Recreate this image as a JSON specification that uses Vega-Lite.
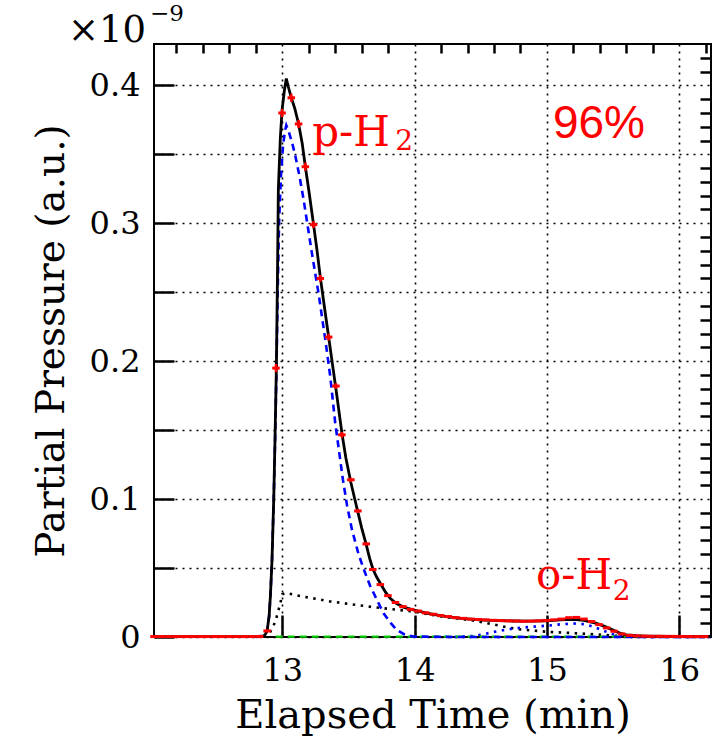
{
  "$schema": "https://vega.github.io/schema/vega-lite/v6.json",
  "autosize": {"type": "none"},
  "padding": {"left": 154, "top": 44, "right": 1, "bottom": 108},
  "width": 557,
  "height": 593,
  "background": "white",
  "config": {
    "view": {"stroke": "black", "strokeWidth": 2},
    "axis": {"domain": false, "labelColor": "black", "titleColor": "black", "tickColor": "black", "labelFlush": false, "labelOverlap": false, "labelBound": false}
  },
  "resolve": {"axis": {"x": "independent", "y": "independent"}},
  "layer": [
    {
      "data": {"values": [
        {"t": 12.86, "p": 0}, {"t": 12.9, "p": 0.002}, {"t": 12.947, "p": 0.011}, {"t": 12.985, "p": 0.0245},
        {"t": 13.0, "p": 0.031}, {"t": 13.03, "p": 0.032}, {"t": 13.11, "p": 0.0302}, {"t": 13.36, "p": 0.0258},
        {"t": 13.7, "p": 0.0215}, {"t": 14.0, "p": 0.0184}, {"t": 14.19, "p": 0.015}, {"t": 14.44, "p": 0.012},
        {"t": 14.6, "p": 0.009}, {"t": 14.7, "p": 0.007}, {"t": 14.8, "p": 0.0055}, {"t": 15.0, "p": 0.0038},
        {"t": 15.2, "p": 0.0028}, {"t": 15.35, "p": 0.002}, {"t": 15.5, "p": 0.001}, {"t": 15.65, "p": 0.0003}, {"t": 16.24, "p": 0}
      ]},
      "mark": {"type": "line", "color": "black", "strokeWidth": 2.6, "strokeDash": [2.5, 5.5]},
      "encoding": {
        "x": {"field": "t", "type": "quantitative", "scale": {"domain": [12.03, 16.24], "nice": false, "zero": false},
          "axis": {"values": [13, 14, 15, 16], "format": "d", "grid": true, "gridColor": "black", "gridDash": [2, 5], "gridWidth": 1.6, "gridOpacity": 1,
            "tickSize": -22, "tickWidth": 2.5, "labelFont": "DejaVu Serif", "labelFontSize": 32, "labelPadding": 40,
            "title": "Elapsed Time (min)", "titleFont": "DejaVu Serif", "titleFontSize": 40, "titleFontWeight": "normal", "titlePadding": 9}},
        "y": {"field": "p", "type": "quantitative", "scale": {"domain": [0, 0.43], "nice": false, "zero": false},
          "axis": {"values": [0, 0.05, 0.1, 0.15, 0.2, 0.25, 0.3, 0.35, 0.4],
            "labelExpr": "datum.value == 0 ? '0' : (abs(datum.value*10 - round(datum.value*10)) < 0.001 ? format(datum.value, '.1f') : '')",
            "grid": true, "gridColor": "black", "gridDash": [2, 5], "gridWidth": 1.6, "gridOpacity": 1,
            "tickSize": -20, "tickWidth": 2.5, "labelFont": "DejaVu Serif", "labelFontSize": 32, "labelPadding": 34,
            "title": "Partial Pressure (a.u.)", "titleFont": "DejaVu Serif", "titleFontSize": 39, "titleFontWeight": "normal", "titlePadding": 18}}
      }
    },
    {
      "data": {"values": [
        {"t": 14.3, "p": 0}, {"t": 14.45, "p": 0.0008}, {"t": 14.52, "p": 0.002}, {"t": 14.6, "p": 0.0037}, {"t": 14.7, "p": 0.0055},
        {"t": 14.8, "p": 0.0067}, {"t": 14.9, "p": 0.0075}, {"t": 15.0, "p": 0.0082}, {"t": 15.1, "p": 0.0092}, {"t": 15.2, "p": 0.0098},
        {"t": 15.28, "p": 0.0093}, {"t": 15.35, "p": 0.0075}, {"t": 15.42, "p": 0.0048}, {"t": 15.5, "p": 0.002}, {"t": 15.56, "p": 0.0006},
        {"t": 15.65, "p": 0}, {"t": 16.24, "p": 0}
      ]},
      "mark": {"type": "line", "color": "#0000ff", "strokeWidth": 2.6, "strokeDash": [2.5, 5.5]},
      "encoding": {
        "x": {"field": "t", "type": "quantitative", "axis": null},
        "y": {"field": "p", "type": "quantitative", "axis": null}
      }
    },
    {
      "data": {"values": [{"t": 12.95, "p": 0.0003}, {"t": 16.24, "p": 0.0003}]},
      "mark": {"type": "line", "color": "#00cc00", "strokeWidth": 2.4, "strokeDash": [7, 5]},
      "encoding": {
        "x": {"field": "t", "type": "quantitative", "axis": null},
        "y": {"field": "p", "type": "quantitative", "axis": null}
      }
    },
    {
      "data": {"values": [
        {"t": 12.8, "p": 0}, {"t": 12.86, "p": 0.0005}, {"t": 12.872, "p": 0.002}, {"t": 12.885, "p": 0.0045}, {"t": 12.9, "p": 0.015},
        {"t": 12.91, "p": 0.03}, {"t": 12.922, "p": 0.056}, {"t": 12.935, "p": 0.1}, {"t": 12.945, "p": 0.142}, {"t": 12.955, "p": 0.19},
        {"t": 12.965, "p": 0.25}, {"t": 12.975, "p": 0.3}, {"t": 12.99, "p": 0.335}, {"t": 13.005, "p": 0.356}, {"t": 13.02, "p": 0.367},
        {"t": 13.03, "p": 0.371}, {"t": 13.05, "p": 0.366}, {"t": 13.075, "p": 0.358}, {"t": 13.098, "p": 0.349}, {"t": 13.13, "p": 0.334},
        {"t": 13.161, "p": 0.317}, {"t": 13.19, "p": 0.299}, {"t": 13.224, "p": 0.278}, {"t": 13.274, "p": 0.249}, {"t": 13.325, "p": 0.2155},
        {"t": 13.362, "p": 0.189}, {"t": 13.4, "p": 0.155}, {"t": 13.458, "p": 0.114}, {"t": 13.49, "p": 0.095}, {"t": 13.526, "p": 0.078},
        {"t": 13.576, "p": 0.06}, {"t": 13.62, "p": 0.048}, {"t": 13.664, "p": 0.037}, {"t": 13.72, "p": 0.026}, {"t": 13.765, "p": 0.0172},
        {"t": 13.82, "p": 0.01}, {"t": 13.866, "p": 0.005}, {"t": 13.92, "p": 0.002}, {"t": 13.99, "p": 0.0003}, {"t": 14.3, "p": 0}, {"t": 16.24, "p": 0}
      ]},
      "mark": {"type": "line", "color": "#0000ff", "strokeWidth": 2.6, "strokeDash": [7, 5]},
      "encoding": {
        "x": {"field": "t", "type": "quantitative",
          "axis": {"values": [12.2, 12.4, 12.6, 12.8, 13.2, 13.4, 13.6, 13.8, 14.2, 14.4, 14.6, 14.8, 15.2, 15.4, 15.6, 15.8, 16.2],
            "grid": false, "labels": false, "tickSize": -9, "tickWidth": 2.5, "title": null}},
        "y": {"field": "p", "type": "quantitative",
          "axis": {"values": [0.01, 0.02, 0.03, 0.04, 0.06, 0.07, 0.08, 0.09, 0.11, 0.12, 0.13, 0.14, 0.16, 0.17, 0.18, 0.19, 0.21, 0.22, 0.23, 0.24, 0.26, 0.27, 0.28, 0.29, 0.31, 0.32, 0.33, 0.34, 0.36, 0.37, 0.38, 0.39, 0.41, 0.42],
            "grid": false, "labels": false, "tickSize": -11, "tickWidth": 2.5, "title": null}}
      }
    },
    {
      "data": {"values": [
        {"t": 12.03, "p": 0.0003}, {"t": 12.8, "p": 0.0003}, {"t": 12.86, "p": 0.0008}, {"t": 12.872, "p": 0.002}, {"t": 12.885, "p": 0.0045},
        {"t": 12.9, "p": 0.015}, {"t": 12.91, "p": 0.03}, {"t": 12.922, "p": 0.056}, {"t": 12.935, "p": 0.1}, {"t": 12.945, "p": 0.145},
        {"t": 12.955, "p": 0.196}, {"t": 12.963, "p": 0.26}, {"t": 12.97, "p": 0.325}, {"t": 12.985, "p": 0.362}, {"t": 12.998, "p": 0.382},
        {"t": 13.015, "p": 0.396}, {"t": 13.03, "p": 0.405}, {"t": 13.045, "p": 0.399}, {"t": 13.068, "p": 0.391}, {"t": 13.095, "p": 0.383},
        {"t": 13.123, "p": 0.372}, {"t": 13.15, "p": 0.358}, {"t": 13.174, "p": 0.341}, {"t": 13.2, "p": 0.324}, {"t": 13.236, "p": 0.299},
        {"t": 13.26, "p": 0.282}, {"t": 13.287, "p": 0.261}, {"t": 13.32, "p": 0.238}, {"t": 13.35, "p": 0.2175}, {"t": 13.38, "p": 0.197},
        {"t": 13.405, "p": 0.18}, {"t": 13.45, "p": 0.148}, {"t": 13.48, "p": 0.13}, {"t": 13.518, "p": 0.112}, {"t": 13.55, "p": 0.099},
        {"t": 13.571, "p": 0.0905}, {"t": 13.6, "p": 0.079}, {"t": 13.634, "p": 0.067}, {"t": 13.66, "p": 0.057}, {"t": 13.684, "p": 0.0495},
        {"t": 13.71, "p": 0.044}, {"t": 13.74, "p": 0.039}, {"t": 13.78, "p": 0.0325}, {"t": 13.815, "p": 0.028}, {"t": 13.86, "p": 0.0245},
        {"t": 13.92, "p": 0.0215}, {"t": 13.99, "p": 0.0196}, {"t": 14.1, "p": 0.0172}, {"t": 14.24, "p": 0.0148}, {"t": 14.37, "p": 0.0134},
        {"t": 14.49, "p": 0.0124}, {"t": 14.62, "p": 0.0119}, {"t": 14.745, "p": 0.0116}, {"t": 14.87, "p": 0.0115}, {"t": 15.0, "p": 0.0118},
        {"t": 15.1, "p": 0.0124}, {"t": 15.2, "p": 0.0128}, {"t": 15.28, "p": 0.0121}, {"t": 15.375, "p": 0.0099}, {"t": 15.44, "p": 0.0075},
        {"t": 15.5, "p": 0.005}, {"t": 15.55, "p": 0.0028}, {"t": 15.6, "p": 0.0015}, {"t": 15.68, "p": 0.0009}, {"t": 15.75, "p": 0.0007},
        {"t": 16.0, "p": 0.0005}, {"t": 16.24, "p": 0.0004}
      ]},
      "mark": {"type": "line", "color": "black", "strokeWidth": 2.8},
      "encoding": {
        "x": {"field": "t", "type": "quantitative", "axis": null},
        "y": {"field": "p", "type": "quantitative", "axis": null}
      }
    },
    {
      "data": {"name": "pts", "values": [
        {"t": 12.03, "p": 0.0003, "e": 0}, {"t": 12.087, "p": 0.0003, "e": 0}, {"t": 12.144, "p": 0.0003, "e": 0}, {"t": 12.201, "p": 0.0003, "e": 0},
        {"t": 12.258, "p": 0.0003, "e": 0}, {"t": 12.315, "p": 0.0003, "e": 0}, {"t": 12.372, "p": 0.0003, "e": 0}, {"t": 12.429, "p": 0.0003, "e": 0},
        {"t": 12.486, "p": 0.0003, "e": 0}, {"t": 12.543, "p": 0.0003, "e": 0}, {"t": 12.6, "p": 0.0003, "e": 0}, {"t": 12.657, "p": 0.0003, "e": 0},
        {"t": 12.714, "p": 0.0003, "e": 0}, {"t": 12.771, "p": 0.0003, "e": 0}, {"t": 12.828, "p": 0.0004, "e": 0}, {"t": 12.885, "p": 0.0044, "e": 0.001},
        {"t": 12.952, "p": 0.195, "e": 0.003}, {"t": 12.998, "p": 0.38, "e": 0.003}, {"t": 13.068, "p": 0.391, "e": 0.003}, {"t": 13.123, "p": 0.372, "e": 0.003},
        {"t": 13.174, "p": 0.341, "e": 0.003}, {"t": 13.236, "p": 0.299, "e": 0.0025}, {"t": 13.287, "p": 0.26, "e": 0.0025}, {"t": 13.35, "p": 0.2175, "e": 0.0025},
        {"t": 13.405, "p": 0.182, "e": 0.002}, {"t": 13.45, "p": 0.1466, "e": 0.002}, {"t": 13.518, "p": 0.114, "e": 0.0015}, {"t": 13.571, "p": 0.0914, "e": 0.0015},
        {"t": 13.634, "p": 0.0675, "e": 0.001}, {"t": 13.684, "p": 0.049, "e": 0.001}, {"t": 13.741, "p": 0.038, "e": 0}, {"t": 13.798, "p": 0.03, "e": 0},
        {"t": 13.855, "p": 0.025, "e": 0}, {"t": 13.912, "p": 0.022, "e": 0}, {"t": 13.969, "p": 0.02, "e": 0}, {"t": 14.026, "p": 0.0188, "e": 0},
        {"t": 14.083, "p": 0.0175, "e": 0}, {"t": 14.14, "p": 0.0165, "e": 0}, {"t": 14.197, "p": 0.0155, "e": 0}, {"t": 14.254, "p": 0.0148, "e": 0},
        {"t": 14.311, "p": 0.014, "e": 0}, {"t": 14.368, "p": 0.0135, "e": 0}, {"t": 14.425, "p": 0.013, "e": 0}, {"t": 14.482, "p": 0.0127, "e": 0},
        {"t": 14.539, "p": 0.0124, "e": 0}, {"t": 14.596, "p": 0.0121, "e": 0}, {"t": 14.653, "p": 0.0119, "e": 0}, {"t": 14.71, "p": 0.0117, "e": 0},
        {"t": 14.767, "p": 0.0116, "e": 0}, {"t": 14.824, "p": 0.0114, "e": 0}, {"t": 14.881, "p": 0.0115, "e": 0}, {"t": 14.938, "p": 0.0117, "e": 0},
        {"t": 14.995, "p": 0.012, "e": 0}, {"t": 15.052, "p": 0.0124, "e": 0}, {"t": 15.109, "p": 0.013, "e": 0}, {"t": 15.166, "p": 0.014, "e": 0},
        {"t": 15.223, "p": 0.0142, "e": 0}, {"t": 15.28, "p": 0.013, "e": 0}, {"t": 15.337, "p": 0.0112, "e": 0}, {"t": 15.394, "p": 0.009, "e": 0},
        {"t": 15.451, "p": 0.0066, "e": 0}, {"t": 15.508, "p": 0.0042, "e": 0}, {"t": 15.565, "p": 0.0022, "e": 0}, {"t": 15.622, "p": 0.0012, "e": 0},
        {"t": 15.679, "p": 0.0008, "e": 0}, {"t": 15.736, "p": 0.0006, "e": 0}, {"t": 15.793, "p": 0.0005, "e": 0}, {"t": 15.85, "p": 0.0005, "e": 0},
        {"t": 15.907, "p": 0.0004, "e": 0}, {"t": 15.964, "p": 0.0004, "e": 0}, {"t": 16.021, "p": 0.0004, "e": 0}, {"t": 16.078, "p": 0.0003, "e": 0},
        {"t": 16.135, "p": 0.0003, "e": 0}, {"t": 16.192, "p": 0.0003, "e": 0}
      ]},
      "layer": [
        {
          "mark": {"type": "tick", "orient": "horizontal", "color": "#ff0000", "size": 7.5, "thickness": 3, "opacity": 1},
          "encoding": {
            "x": {"field": "t", "type": "quantitative", "axis": null},
            "y": {"field": "p", "type": "quantitative", "axis": null}
          }
        },
        {
          "mark": {"type": "errorbar", "color": "#ff0000", "thickness": 2.5},
          "encoding": {
            "x": {"field": "t", "type": "quantitative", "axis": null},
            "y": {"field": "p", "type": "quantitative", "axis": null},
            "yError": {"field": "e"}
          }
        }
      ]
    },
    {
      "data": {"values": [
        {"t": 13.226, "p": 0.3563, "s": "p-H"},
        {"t": 14.917, "p": 0.0346, "s": "o-H"}
      ]},
      "mark": {"type": "text", "font": "DejaVu Serif", "fontSize": 42, "color": "#ff0000", "align": "left", "baseline": "alphabetic"},
      "encoding": {
        "x": {"field": "t", "type": "quantitative", "axis": null},
        "y": {"field": "p", "type": "quantitative", "axis": null},
        "text": {"field": "s"}
      }
    },
    {
      "data": {"values": [
        {"t": 13.853, "p": 0.353, "s": "2"},
        {"t": 15.498, "p": 0.0269, "s": "2"}
      ]},
      "mark": {"type": "text", "font": "DejaVu Serif", "fontSize": 28, "color": "#ff0000", "align": "left", "baseline": "alphabetic"},
      "encoding": {
        "x": {"field": "t", "type": "quantitative", "axis": null},
        "y": {"field": "p", "type": "quantitative", "axis": null},
        "text": {"field": "s"}
      }
    },
    {
      "data": {"values": [{"t": 15.045, "p": 0.3621, "s": "96%"}]},
      "mark": {"type": "text", "font": "Liberation Sans", "fontSize": 46, "color": "#ff0000", "align": "left", "baseline": "alphabetic"},
      "encoding": {
        "x": {"field": "t", "type": "quantitative", "axis": null},
        "y": {"field": "p", "type": "quantitative", "axis": null},
        "text": {"field": "s"}
      }
    },
    {
      "data": {"values": [{"t": 11.38, "p": 0.4315, "s": "×10"}]},
      "mark": {"type": "text", "font": "DejaVu Serif", "fontSize": 37, "color": "black", "align": "left", "baseline": "alphabetic"},
      "encoding": {
        "x": {"field": "t", "type": "quantitative", "axis": null},
        "y": {"field": "p", "type": "quantitative", "axis": null},
        "text": {"field": "s"}
      }
    },
    {
      "data": {"values": [{"t": 12.0, "p": 0.447, "s": "−9"}]},
      "mark": {"type": "text", "font": "DejaVu Serif", "fontSize": 23, "color": "black", "align": "left", "baseline": "alphabetic"},
      "encoding": {
        "x": {"field": "t", "type": "quantitative", "axis": null},
        "y": {"field": "p", "type": "quantitative", "axis": null},
        "text": {"field": "s"}
      }
    }
  ]
}
